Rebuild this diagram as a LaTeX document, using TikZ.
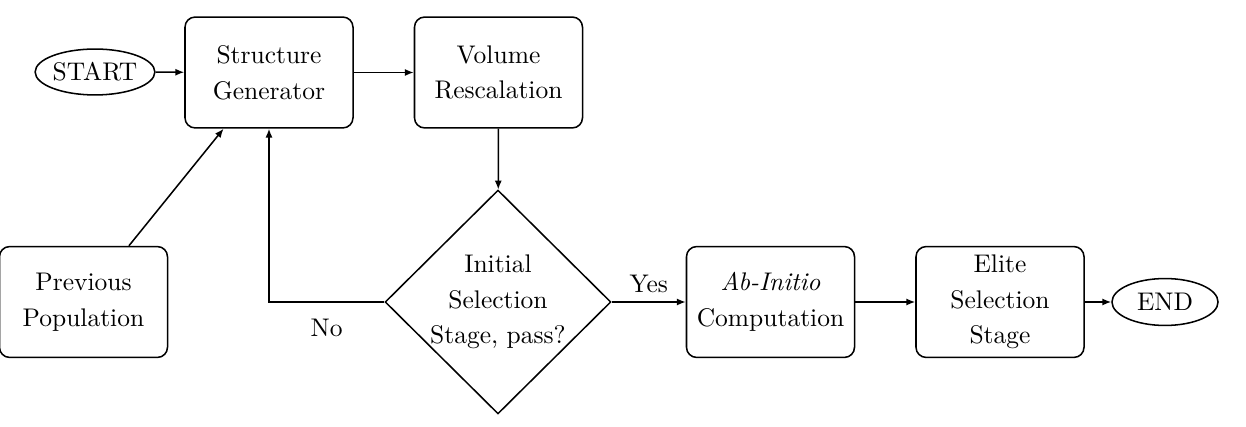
\documentclass[tikz,border=0pt]{standalone}
\usetikzlibrary{shapes.geometric,arrows.meta}
\begin{document}
\begin{tikzpicture}[x=0.3922pt,y=-0.3922pt,
  box/.style={draw, semithick, rounded corners=4pt, minimum width=65.9pt, minimum height=43.5pt, align=center, font=\fontsize{10}{14}\selectfont, inner sep=2pt},
  term/.style={draw, semithick, ellipse, inner sep=0pt},
  dec/.style={draw, semithick, diamond, minimum width=88.6pt, minimum height=87.8pt, inner sep=0pt},
  arr/.style={semithick, -{Latex[length=3.5pt,width=2.8pt]}}]
\useasboundingbox (0,0) rectangle (1246,427);
\node[term, minimum width=45.5pt, minimum height=18pt] (start) at (95,72) {START};
\node[box] (sg) at (269,72.5) {Structure\\Generator};
\node[box] (vr) at (498.5,72.5) {Volume\\Rescalation};
\node[box] (pp) at (83.5,302) {Previous\\Population};
\node[dec, label={[align=center,font=\fontsize{10}{14}\selectfont]center:Initial\\Selection\\Stage, pass?}] (dec) at (498,302) {};
\node[box] (ai) at (770.5,302) {\textit{Ab-Initio}\\Computation};
\node[box] (es) at (1000,302) {Elite\\Selection\\Stage};
\node[term, minimum width=41.6pt, minimum height=18.4pt] (stop) at (1165,302) {END};
\draw[arr] (start) -- (sg);
\draw[arr] (sg) -- (vr);
\draw[arr] (vr) -- (dec);
\draw[arr] (dec) -- node[above] {Yes} (ai);
\draw[arr] (ai) -- (es);
\draw[arr] (es) -- (stop);
\draw[arr] (pp) -- (sg);
\draw[arr] (dec.west) -| node[pos=0.25, below=3pt] {No} (sg.south);
\end{tikzpicture}
\end{document}
